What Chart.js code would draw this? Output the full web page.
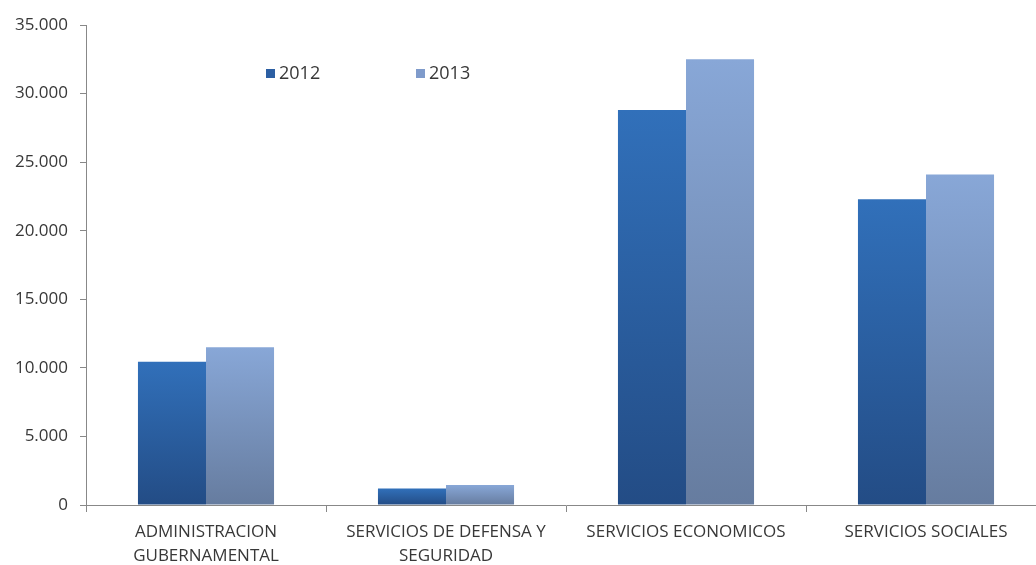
<!DOCTYPE html>
<html>
<head>
<meta charset="utf-8">
<script src="https://cdn.jsdelivr.net/npm/chart.js@4/dist/chart.umd.min.js"></script>
<style>
html,body{margin:0;padding:0;background:#fff;overflow:hidden;}
#wrap{width:1036px;height:565px;overflow:hidden;position:relative;}
canvas{display:block;}
</style>
</head>
<body>
<div id="wrap"><canvas id="c" width="1050" height="565"></canvas></div>
<script>
const categories = [
  ["ADMINISTRACION", "GUBERNAMENTAL"],
  ["SERVICIOS DE DEFENSA Y", "SEGURIDAD"],
  "SERVICIOS ECONOMICOS",
  "SERVICIOS SOCIALES"
];
const seriesNames = ["2012", "2013"];
const values2012 = [10450, 1200, 28800, 22300];
const values2013 = [11500, 1450, 32500, 24100];
const yTicks = [0, 5000, 10000, 15000, 20000, 25000, 30000, 35000];

const palettes = [
  {top: "#3170ba", bottom: "#234c85", legend: "#2c5fa3"},
  {top: "#88a7d7", bottom: "#667c9f", legend: "#7f9bcb"}
];

function barGradient(idx) {
  return function (ctx) {
    const chart = ctx.chart;
    const area = chart.chartArea;
    const y = chart.scales.y;
    if (!area || !y || ctx.type !== 'data') return palettes[idx].top;
    const top = y.getPixelForValue(ctx.raw);
    const base = y.getPixelForValue(0);
    if (!isFinite(top) || !isFinite(base) || base - top < 1) return palettes[idx].top;
    const g = chart.ctx.createLinearGradient(0, top, 0, base);
    g.addColorStop(0, palettes[idx].top);
    g.addColorStop(1, palettes[idx].bottom);
    return g;
  };
}

const FONT = "'Open Sans', 'Liberation Sans', sans-serif";

const legendPlugin = {
  id: 'customLegend',
  afterDraw(chart) {
    const c = chart.ctx;
    const pos = [{x: 266, y: 74}, {x: 416, y: 74}];
    c.save();
    chart.data.datasets.forEach((ds, i) => {
      c.fillStyle = palettes[i].legend;
      c.fillRect(pos[i].x, pos[i].y - 5, 9, 9);
      c.fillStyle = '#383838';
      c.font = "18px " + FONT;
      c.textBaseline = 'middle';
      c.textAlign = 'left';
      c.fillText(ds.label, pos[i].x + 13, pos[i].y);
    });
    c.restore();
  }
};

new Chart(document.getElementById('c'), {
  type: 'bar',
  data: {
    labels: categories,
    datasets: [
      {label: seriesNames[0], data: values2012, backgroundColor: barGradient(0)},
      {label: seriesNames[1], data: values2013, backgroundColor: barGradient(1)}
    ]
  },
  options: {
    responsive: false,
    animation: false,
    events: [],
    layout: {padding: {top: 25, right: 4, left: 0, bottom: 0}},
    datasets: {bar: {categoryPercentage: 0.567, barPercentage: 1.0, borderWidth: 0}},
    plugins: {legend: {display: false}, tooltip: {enabled: false}},
    scales: {
      x: {
        offset: true,
        grid: {display: true, offset: true, drawOnChartArea: false, drawTicks: true, tickLength: 7, color: '#888', tickColor: '#888'},
        border: {display: true, color: '#888', width: 1},
        ticks: {color: '#383838', font: {family: FONT, size: 17, lineHeight: 1.4}, padding: 8, maxRotation: 0, autoSkip: false},
        afterFit(scale) { scale.height = 60; }
      },
      y: {
        min: 0, max: 35000,
        afterBuildTicks(scale) { scale.ticks = yTicks.map(v => ({value: v})); },
        grid: {display: true, drawOnChartArea: false, drawTicks: true, tickLength: 6, color: '#888', tickColor: '#888'},
        border: {display: true, color: '#888', width: 1},
        ticks: {
          color: '#383838', font: {family: FONT, size: 17}, padding: 12,
          callback: v => v === 0 ? '0' : String(v).replace(/\B(?=(\d{3})+(?!\d))/g, '.')
        },
        afterFit(scale) { scale.width = 86; }
      }
    }
  },
  plugins: [legendPlugin]
});
</script>
</body>
</html>
